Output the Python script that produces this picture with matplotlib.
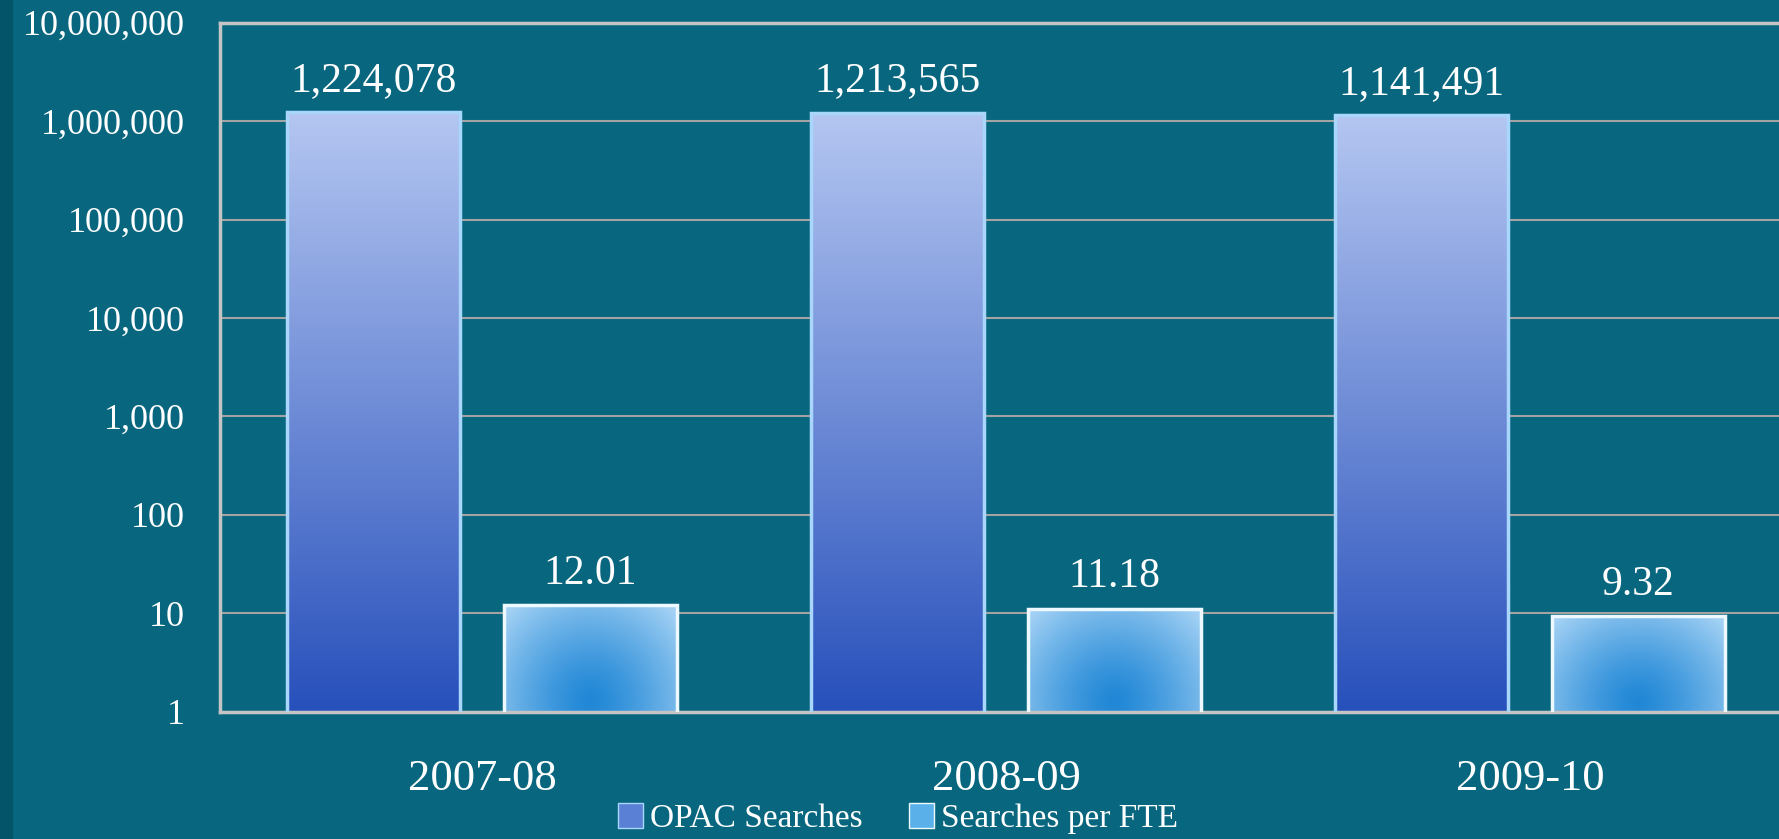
import numpy as np
import matplotlib
matplotlib.use("Agg")
import matplotlib.pyplot as plt
from matplotlib.colors import to_rgb
from matplotlib.patches import Rectangle, Patch

years = ["2007-08", "2008-09", "2009-10"]
opac_searches = [1224078, 1213565, 1141491]
searches_per_fte = [12.01, 11.18, 9.32]
series_names = ["OPAC Searches", "Searches per FTE"]
ytick_vals = [1, 10, 100, 1000, 10000, 100000, 1000000, 10000000]

BG = "#08677f"
plt.rcParams["font.family"] = ["Liberation Serif", "DejaVu Serif"]


def vertical_grad(top, bottom, n=200):
    t = np.linspace(0, 1, n)[:, None]
    a, b = np.array(to_rgb(top)), np.array(to_rgb(bottom))
    img = a * (1 - t) + b * t
    return np.repeat(img[:, None, :], 2, axis=1).reshape(n, 2, 3)


def radial_grad(center, edge, n=120):
    yy, xx = np.mgrid[0:1:n * 1j, 0:1:n * 1j]
    d = np.sqrt(((xx - 0.5) / 0.7) ** 2 + ((yy - 0.9) / 1.2) ** 2)
    d = np.clip(d, 0, 1)[..., None] ** 1.3
    a, b = np.array(to_rgb(center)), np.array(to_rgb(edge))
    return a * (1 - d) + b * d


fig = plt.figure(figsize=(17.79, 8.39), dpi=100, facecolor=BG)
fig.patches.append(Rectangle((0, 0), 12 / 1779, 1, transform=fig.transFigure,
                             color="#045469", zorder=0))
ax = fig.add_axes([220 / 1779, 0.1517, 1572 / 1779, 0.8213])
ax.set_facecolor(BG)
ax.set_yscale("log")
ax.set_ylim(1, 1e7)
ax.set_xlim(-0.5, len(years) - 0.5)

x = np.arange(len(years))
w = 0.33
off = 0.207
b1 = ax.bar(x - off, opac_searches, w, color="none", edgecolor="#a9d6fb", linewidth=2.5, zorder=3)
b2 = ax.bar(x + off, searches_per_fte, w, color="none", edgecolor="#eef8ff", linewidth=2.5, zorder=3)

to_axes = ax.transData + ax.transAxes.inverted()
for bars, kind in [(b1, "v"), (b2, "r")]:
    for p in bars:
        (x0, y0), (x1, y1) = to_axes.transform([(p.get_x(), 1), (p.get_x() + p.get_width(), p.get_height())])
        if kind == "v":
            img = vertical_grad("#b4c6f1", "#2750bb")
        else:
            img = radial_grad("#2087d6", "#a6d3f5")
        im = ax.imshow(img, extent=[x0, x1, y0, y1], transform=ax.transAxes,
                       aspect="auto", zorder=2, interpolation="bilinear")
        im.set_clip_path(p)

for p, v in zip(b1, opac_searches):
    ax.annotate(f"{v:,}", (p.get_x() + p.get_width() / 2, p.get_height()),
                xytext=(0, 9), textcoords="offset points", ha="center", va="bottom",
                color="white", fontsize=30)
for p, v in zip(b2, searches_per_fte):
    ax.annotate(f"{v:.2f}", (p.get_x() + p.get_width() / 2, p.get_height()),
                xytext=(0, 9), textcoords="offset points", ha="center", va="bottom",
                color="white", fontsize=30)

ax.set_yticks(ytick_vals)
ax.set_yticklabels([f"{v:,}" for v in ytick_vals])
ax.minorticks_off()
ax.set_xticks(x)
ax.set_xticklabels(years)
ax.tick_params(axis="y", length=0, pad=25, labelsize=26, labelcolor="white")
ax.tick_params(axis="x", length=0, pad=34, labelsize=32, labelcolor="white")
ax.grid(axis="y", color="#a3a3a3", linewidth=1.5)
ax.set_axisbelow(True)
for s in ["left", "bottom", "top"]:
    ax.spines[s].set_color("#c4c4c4")
    ax.spines[s].set_linewidth(2.5)
ax.spines["right"].set_visible(False)

handles = [Patch(facecolor="#5a80d6", edgecolor="#a9d6fb"),
           Patch(facecolor="#5ab0e8", edgecolor="#eef8ff")]
fig.legend(handles, series_names, loc="center", bbox_to_anchor=(898 / 1779, 0.024),
           ncol=2, frameon=False, fontsize=24, labelcolor="white",
           handlelength=0.75, handleheight=0.75, handletextpad=0.2, columnspacing=1.4)

fig.savefig("out.png", dpi=100, facecolor=BG)
